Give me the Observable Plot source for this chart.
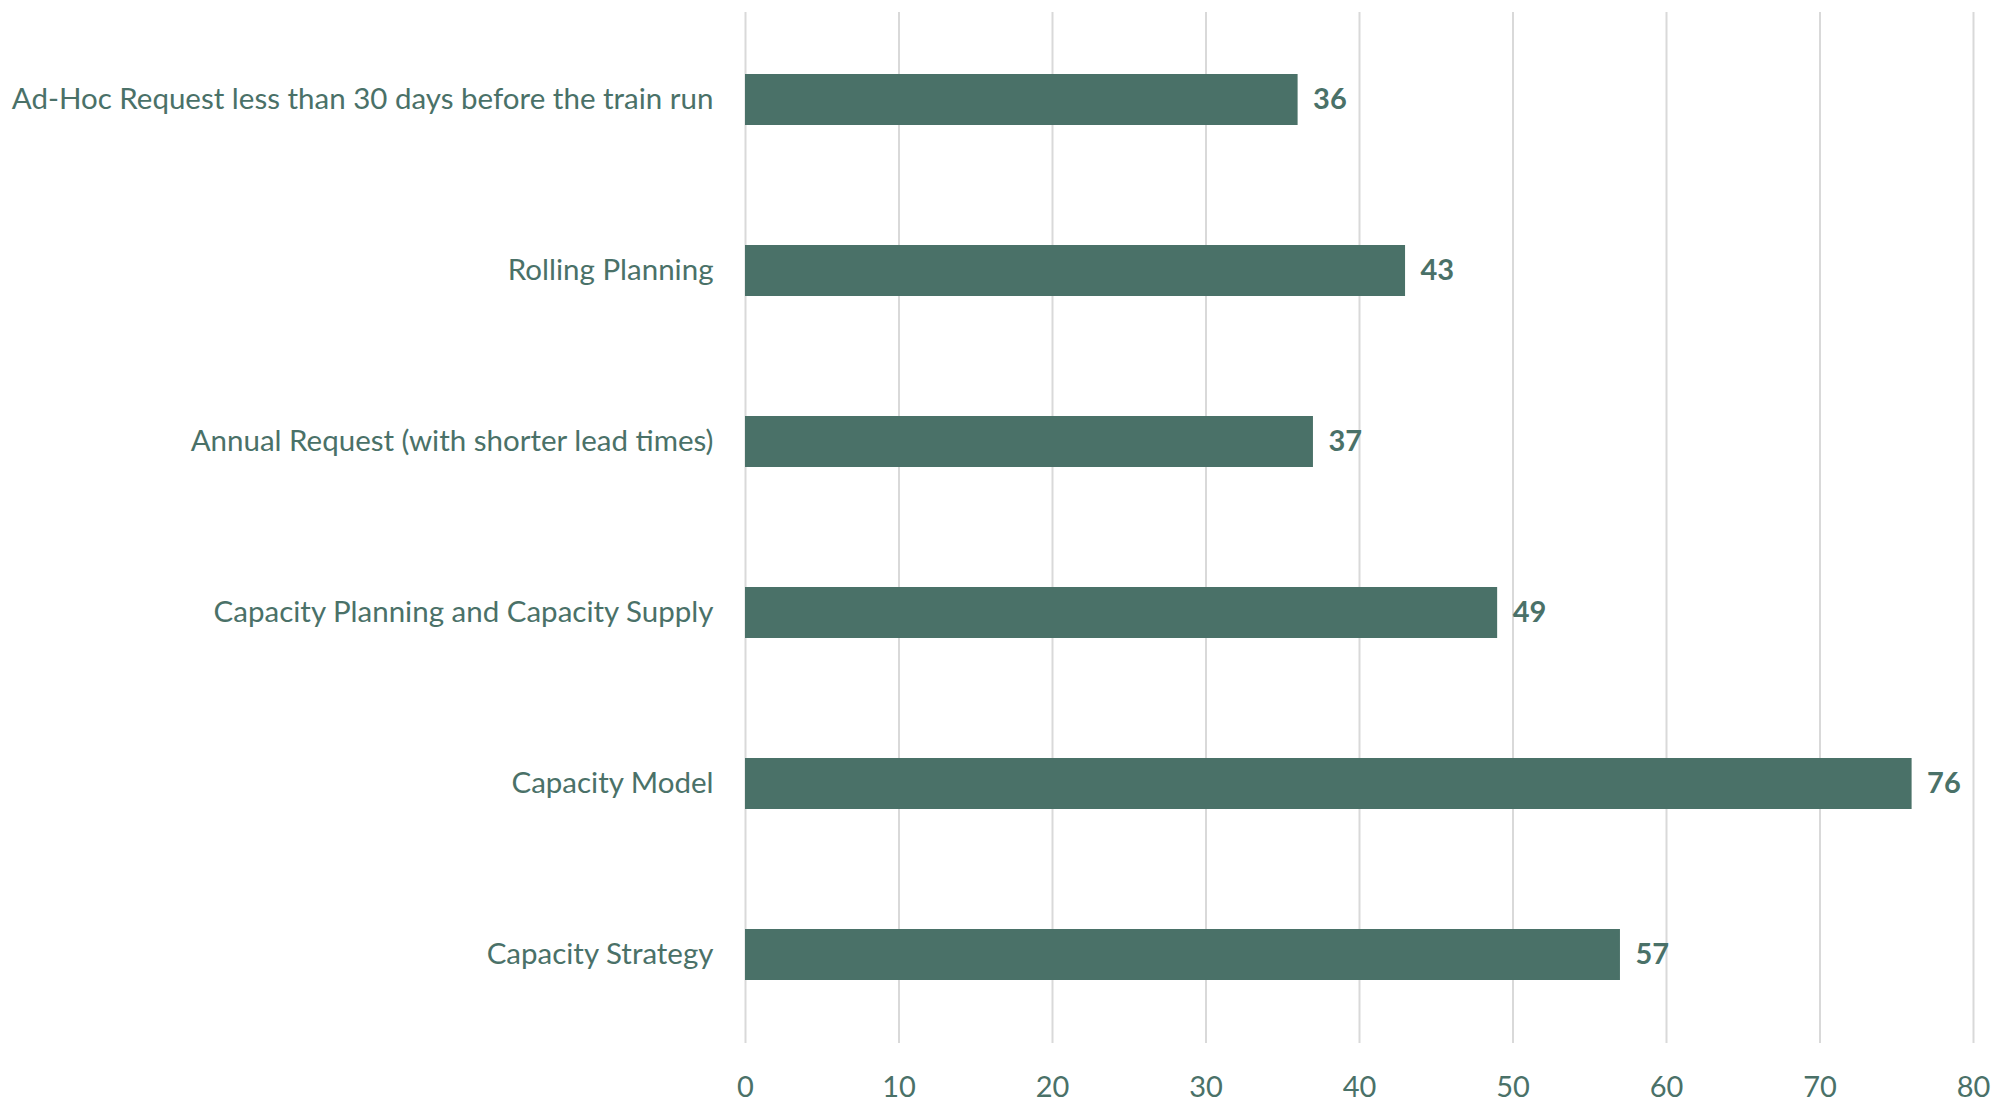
<!DOCTYPE html>
<html>
<head>
<meta charset="utf-8">
<script src="https://cdn.jsdelivr.net/npm/d3@7"></script>
<script src="https://cdn.jsdelivr.net/npm/@observablehq/plot@0.6"></script>
<style>
  html, body { margin: 0; padding: 0; background: #fff; }
  #chart svg { display: block; }
</style>
</head>
<body>
<div id="chart"></div>
<script>
const categories = [
  "Ad-Hoc Request less than 30 days before the train run",
  "Rolling Planning",
  "Annual Request (with shorter lead times)",
  "Capacity Planning and Capacity Supply",
  "Capacity Model",
  "Capacity Strategy"
];
const values = [36, 43, 37, 49, 76, 57];
const xTicks = [0, 10, 20, 30, 40, 50, 60, 70, 80];

const data = categories.map((c, i) => ({category: c, value: values[i]}));
const color = "#4A7168";

const chart = Plot.plot({
  width: 1998,
  height: 1102,
  marginLeft: 745,
  marginRight: 25,
  marginTop: 12,
  marginBottom: 59,
  style: {fontFamily: "Lato, 'Open Sans', sans-serif", color: color, background: "#fff"},
  x: {domain: [0, 80], ticks: xTicks, label: null},
  y: {domain: categories, paddingInner: 0.7, paddingOuter: 0.35, label: null},
  marks: [
    Plot.ruleX(xTicks, {stroke: "#d9d9d9", strokeWidth: 2}),
    Plot.barX(data, {x: "value", y: "category", fill: color}),
    Plot.text(data, {x: "value", y: "category", text: d => String(d.value), dx: 15, textAnchor: "start", fontWeight: "bold", fontSize: 29, fill: color}),
    Plot.axisX({ticks: xTicks, tickSize: 0, tickPadding: 33, fontSize: 29, fill: color, label: null}),
    Plot.axisY({tickSize: 0, tickPadding: 32, fontSize: 29.5, fill: color, label: null})
  ]
});
document.getElementById("chart").appendChild(chart);
</script>
</body>
</html>
